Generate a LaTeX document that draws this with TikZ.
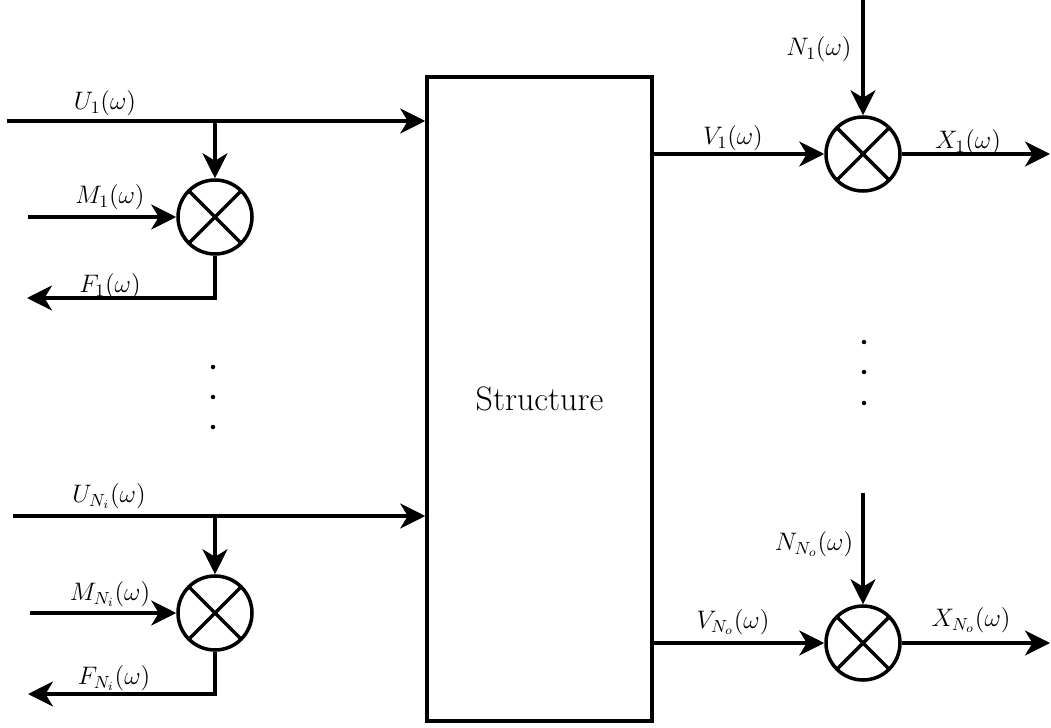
\documentclass[tikz,border=0pt]{standalone}
\usetikzlibrary{arrows.meta,positioning}
\begin{document}
\begin{tikzpicture}[line width=2pt,>={Stealth[length=5mm,width=5mm,inset=1.5mm]},
 mixer/.style={draw,circle,minimum size=1.48cm,inner sep=0pt,
  path picture={\draw (path picture bounding box.north west)--(path picture bounding box.south east)
   (path picture bounding box.south west)--(path picture bounding box.north east);}},
 lbl/.style={font=\Large,inner sep=1pt}]
\useasboundingbox (0,0) rectangle (21.02,14.54);
\node[draw,minimum width=4.5cm,minimum height=12.88cm,font=\fontsize{19.3}{23}\selectfont] (struct) at (10.79,6.56) {Structure};
% inputs
\node[mixer] (mixi1) at (4.30,10.20) {};
\node[mixer] (mixi2) at (4.30,2.28) {};
\coordinate (u1) at (0.14,12.12);
\coordinate (m1) at (0.56,10.20);
\coordinate (f1) at (0.54,8.58);
\coordinate (u2) at (0.26,4.22);
\coordinate (m2) at (0.60,2.28);
\coordinate (f2) at (0.56,0.66);
\draw[->] (u1)--(u1-|struct.west);
\draw[->] (u1-|mixi1)--(mixi1);
\draw[->] (m1)--(mixi1);
\draw[->] (mixi1.south)|-(f1);
\draw[->] (u2)--(u2-|struct.west);
\draw[->] (u2-|mixi2)--(mixi2);
\draw[->] (m2)--(mixi2);
\draw[->] (mixi2.south)|-(f2);
\node[lbl] (lu1) at (2.10,12.48) {$U_1(\omega)$};
\node[lbl] (lm1) at (2.20,10.60) {$M_1(\omega)$};
\node[lbl] (lf1) at (2.20,8.82) {$F_1(\omega)$};
\node[lbl] (lu2) at (2.18,4.62) {$U_{N_i}(\omega)$};
\node[lbl] (lm2) at (2.20,2.66) {$M_{N_i}(\omega)$};
\node[lbl] (lf2) at (2.28,0.98) {$F_{N_i}(\omega)$};
% outputs
\node[mixer] (mixo1) at (17.26,11.46) {};
\node[mixer] (mixo2) at (17.26,1.68) {};
\coordinate (n1) at (17.26,14.54);
\coordinate (x1) at (21.00,11.46);
\coordinate (n2) at (17.26,4.68);
\coordinate (x2) at (21.00,1.68);
\draw[->] (struct.east|-mixo1)--(mixo1);
\draw[->] (n1)--(mixo1);
\draw[->] (mixo1)--(x1);
\draw[->] (struct.east|-mixo2)--(mixo2);
\draw[->] (n2)--(mixo2);
\draw[->] (mixo2)--(x2);
\node[lbl] (ln1) at (16.38,13.56) {$N_1(\omega)$};
\node[lbl] (lv1) at (14.66,11.78) {$V_1(\omega)$};
\node[lbl] (lx1) at (19.36,11.70) {$X_1(\omega)$};
\node[lbl] (ln2) at (16.28,3.66) {$N_{N_o}(\omega)$};
\node[lbl] (lv2) at (14.66,2.10) {$V_{N_o}(\omega)$};
\node[lbl] (lx2) at (19.42,2.14) {$X_{N_o}(\omega)$};
% dots
\foreach \y in {7.20,6.60,6.00} \fill (4.26,\y) circle (0.045);
\foreach \y in {7.70,7.10,6.48} \fill (17.28,\y) circle (0.045);
\end{tikzpicture}
\end{document}
